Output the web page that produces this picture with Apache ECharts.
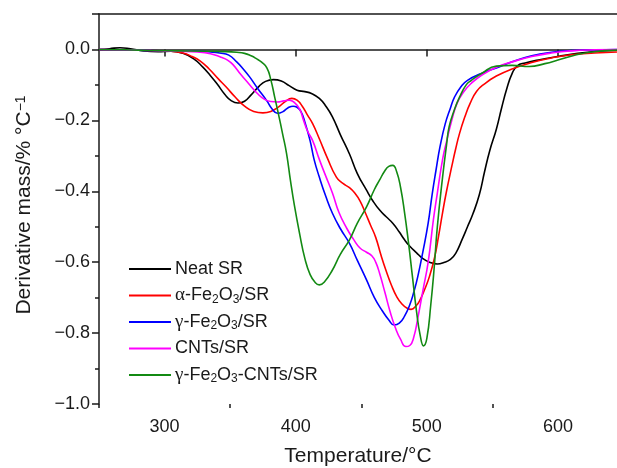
<!DOCTYPE html>
<html>
<head>
<meta charset="utf-8">
<script src="https://cdn.jsdelivr.net/npm/echarts@6/dist/echarts.min.js"></script>
<style>
  html, body { margin: 0; padding: 0; background: #fff; }
  #chart { width: 617px; height: 468px; }
</style>
</head>
<body>
<div id="chart"></div>
<script>
// [temperature °C, derivative mass %/°C]
const neatSR = [
    [250, 0], [258, 0.002], [266, 0.005], [274, 0.002], [284, -0.004], [295, -0.006], [305, -0.005],
    [314, -0.011], [322, -0.026], [329, -0.049], [335, -0.074], [340, -0.097], [346, -0.127], [351, -0.145],
    [356, -0.151], [361, -0.146], [366, -0.128], [372, -0.104], [377, -0.09], [383, -0.085], [389, -0.089],
    [395, -0.102], [401, -0.115], [407, -0.119], [412, -0.124], [418, -0.138], [423, -0.16], [428, -0.19],
    [434, -0.24], [441, -0.295], [447, -0.35], [454, -0.397], [459, -0.428], [464, -0.453], [469, -0.472],
    [474, -0.49], [479, -0.515], [483, -0.537], [487, -0.555], [492, -0.573], [497, -0.59], [502, -0.6],
    [508, -0.605], [513, -0.601], [518, -0.592], [522, -0.575], [527, -0.535], [531, -0.5], [535, -0.465],
    [540, -0.41], [544, -0.345], [548, -0.285], [553, -0.225], [557, -0.165], [561, -0.11], [565, -0.068],
    [569, -0.046], [575, -0.038], [585, -0.03], [600, -0.02], [615, -0.011], [630, -0.005], [645, -0.002]
];

const alphaFe2O3SR = [
    [250, 0], [270, -0.001], [290, -0.003], [305, -0.005], [314, -0.01], [321, -0.02], [327, -0.032],
    [334, -0.055], [341, -0.083], [347, -0.106], [354, -0.135], [361, -0.16], [368, -0.175], [375, -0.179],
    [381, -0.175], [387, -0.162], [392, -0.147], [397, -0.138], [401, -0.143], [405, -0.16], [409, -0.185],
    [413, -0.21], [418, -0.252], [424, -0.305], [431, -0.36], [436, -0.378], [441, -0.39], [445, -0.405],
    [449, -0.427], [453, -0.46], [457, -0.495], [461, -0.53], [465, -0.58], [469, -0.625], [473, -0.665],
    [477, -0.697], [481, -0.718], [485, -0.73], [488, -0.733], [492, -0.722], [495, -0.705], [498, -0.68],
    [502, -0.64], [506, -0.585], [509, -0.525], [512, -0.46], [515, -0.4], [519, -0.33], [522, -0.28],
    [525, -0.236], [529, -0.19], [533, -0.152], [538, -0.118], [544, -0.097], [553, -0.075], [565, -0.055],
    [580, -0.037], [595, -0.024], [610, -0.015], [628, -0.01], [645, -0.007]
];

const gammaFe2O3SR = [
    [250, 0], [270, -0.001], [290, -0.003], [310, -0.004], [325, -0.005], [335, -0.007], [342, -0.01],
    [349, -0.016], [355, -0.035], [360, -0.055], [365, -0.078], [371, -0.11], [378, -0.145], [382, -0.168],
    [386, -0.18], [390, -0.176], [394, -0.165], [398, -0.16], [401, -0.163], [404, -0.175], [407, -0.205],
    [411, -0.258], [414, -0.31], [418, -0.36], [423, -0.415], [428, -0.462], [434, -0.505], [441, -0.547],
    [447, -0.595], [454, -0.65], [460, -0.7], [466, -0.737], [471, -0.763], [475, -0.777], [479, -0.772],
    [483, -0.752], [487, -0.72], [490, -0.685], [493, -0.642], [497, -0.57], [501, -0.49], [504, -0.41],
    [507, -0.34], [510, -0.275], [514, -0.21], [518, -0.165], [521, -0.135], [526, -0.105], [531, -0.087],
    [542, -0.067], [553, -0.052], [565, -0.035], [580, -0.018], [595, -0.008], [610, -0.003], [628, -0.001],
    [645, 0]
];

const cntsSR = [
    [250, 0], [270, -0.001], [290, -0.003], [310, -0.005], [325, -0.007], [335, -0.012], [343, -0.022],
    [348, -0.03], [352, -0.042], [358, -0.07], [365, -0.1], [371, -0.125], [376, -0.14], [381, -0.147],
    [386, -0.148], [391, -0.145], [395, -0.143], [399, -0.15], [403, -0.168], [406, -0.2], [409, -0.23],
    [413, -0.258], [418, -0.31], [423, -0.358], [428, -0.405], [433, -0.46], [439, -0.505], [444, -0.535],
    [449, -0.56], [454, -0.572], [458, -0.582], [461, -0.6], [464, -0.632], [468, -0.685], [472, -0.74],
    [476, -0.785], [480, -0.818], [484, -0.838], [487, -0.835], [490, -0.812], [493, -0.76], [497, -0.68],
    [501, -0.6], [505, -0.48], [508, -0.405], [512, -0.31], [515, -0.26], [519, -0.2], [523, -0.152],
    [528, -0.12], [534, -0.095], [542, -0.072], [553, -0.05], [565, -0.035], [580, -0.02], [595, -0.01],
    [610, -0.004], [628, -0.001], [645, 0]
];

const gammaFe2O3CNTsSR = [
    [250, 0], [270, -0.001], [290, -0.003], [310, -0.004], [330, -0.005], [345, -0.006], [355, -0.008],
    [361, -0.011], [366, -0.018], [370, -0.026], [374, -0.036], [378, -0.052], [381, -0.085], [384, -0.135],
    [387, -0.185], [390, -0.238], [393, -0.293], [396, -0.37], [399, -0.44], [403, -0.52], [407, -0.59],
    [411, -0.635], [415, -0.658], [418, -0.664], [422, -0.655], [428, -0.622], [434, -0.578], [441, -0.537],
    [447, -0.49], [454, -0.444], [460, -0.395], [464, -0.368], [468, -0.342], [471, -0.33], [474, -0.327],
    [477, -0.345], [480, -0.39], [483, -0.46], [486, -0.545], [489, -0.64], [492, -0.735], [495, -0.808],
    [497.5, -0.836], [500, -0.815], [503, -0.72], [505.5, -0.62], [508, -0.5], [512, -0.36], [515, -0.27],
    [517, -0.218], [521, -0.17], [525, -0.134], [530, -0.1], [534, -0.087], [542, -0.067], [553, -0.047],
    [565, -0.045], [578, -0.048], [590, -0.04], [600, -0.03], [612, -0.017], [626, -0.007], [645, -0.002]
];

const seriesNames = ['Neat SR', 'α-Fe2O3/SR', 'γ-Fe2O3/SR', 'CNTs/SR', 'γ-Fe2O3-CNTs/SR'];
const legendLabels = [
    'Neat SR',
    '{g|α}-Fe{sub|2}O{sub|3}/SR',
    '{g|γ}-Fe{sub|2}O{sub|3}/SR',
    'CNTs/SR',
    '{g|γ}-Fe{sub|2}O{sub|3}-CNTs/SR'
];
const seriesData = [neatSR, alphaFe2O3SR, gammaFe2O3SR, cntsSR, gammaFe2O3CNTsSR];
const seriesColors = ['#000000', '#ff0000', '#0000ff', '#ff00ff', '#138a13'];

const xLabelValues = [300, 400, 500, 600];
const xMinorValues = [250, 350, 450, 550];

const FONT = '"Liberation Sans", Arial, sans-serif';
const INK = '#1a1a1a';

function fmtY(v)
{
    if (Math.abs(v) < 1e-9) return '0.0';
    if (v > 0.05) return '';
    return (v < 0 ? '\u2212' : '') + Math.abs(v).toFixed(1);
}

const chart = echarts.init(document.getElementById('chart'), null, { renderer: 'canvas' });

chart.setOption({
    animation: false,
    backgroundColor: '#fff',
    textStyle: { fontFamily: FONT, color: INK },
    grid: { left: 99, right: 0, top: 14, bottom: 64, outerBoundsMode: 'none', containLabel: false },
    legend: {
        orient: 'vertical',
        left: 124,
        top: 254,
        itemWidth: 42,
        itemHeight: 2,
        itemGap: 6.5,
        icon: 'rect',
        data: seriesNames,
        formatter: (name) => legendLabels[seriesNames.indexOf(name)],
        textStyle: {
            fontFamily: FONT, fontSize: 18, color: INK, lineHeight: 20, padding: [0, 0, 0, -1],
            rich: {
                sub: { fontFamily: FONT, fontSize: 12, lineHeight: 8, verticalAlign: 'bottom', color: INK },
                g: { fontFamily: '"Liberation Serif", serif', fontSize: 19, color: INK }
            }
        }
    },
    xAxis: [
        {
            type: 'value', position: 'bottom', min: 250, max: 645,
            name: 'Temperature/°C', nameLocation: 'middle', nameGap: 42,
            nameTextStyle: { fontFamily: FONT, fontSize: 21, color: INK },
            axisLine: { show: true, lineStyle: { color: INK, width: 1.5 } },
            axisTick: { show: true, customValues: xLabelValues, length: 7, lineStyle: { color: INK, width: 1.5 } },
            axisLabel: { customValues: xLabelValues, fontFamily: FONT, fontSize: 18, color: INK, margin: 14 },
            splitLine: { show: false }
        },
        {
            type: 'value', position: 'bottom', min: 250, max: 645,
            axisLine: { show: false },
            axisTick: { show: true, customValues: xMinorValues, length: 4, lineStyle: { color: INK, width: 1.5 } },
            axisLabel: { show: false },
            splitLine: { show: false }
        },
        {
            type: 'value', position: 'top', min: 250, max: 645,
            axisLine: { show: true, lineStyle: { color: INK, width: 1.5 } },
            axisTick: { show: false },
            axisLabel: { show: false },
            splitLine: { show: false }
        }
    ],
    yAxis: {
        type: 'value', min: -1.0, max: 0.1, interval: 0.2,
        name: 'Derivative mass/% °C{sup|\u22121}', nameLocation: 'middle', nameGap: 64,
        nameTextStyle: {
            fontFamily: FONT, fontSize: 21, color: INK, padding: [0, 0, 0, 8],
            rich: {
                sup: { fontFamily: FONT, fontSize: 14, lineHeight: 10, verticalAlign: 'top', color: INK }
            }
        },
        axisLine: { show: true, lineStyle: { color: INK, width: 1.5 } },
        axisTick: { show: true, length: 7, lineStyle: { color: INK, width: 1.5 } },
        minorTick: { show: true, splitNumber: 2, length: 4, lineStyle: { color: INK, width: 1.5 } },
        axisLabel: { formatter: fmtY, fontFamily: FONT, fontSize: 18, color: INK, margin: 9, showMaxLabel: false },
        splitLine: { show: false },
        minorSplitLine: { show: false }
    },
    series: seriesNames.map((name, i) => ({
        name: name,
        type: 'line',
        xAxisIndex: 0,
        data: seriesData[i],
        showSymbol: false,
        symbol: 'none',
        smooth: 0.5,
        clip: true,
        color: seriesColors[i],
        lineStyle: { color: seriesColors[i], width: 1.6 },
        z: 2 + i
    }))
});
</script>
</body>
</html>
